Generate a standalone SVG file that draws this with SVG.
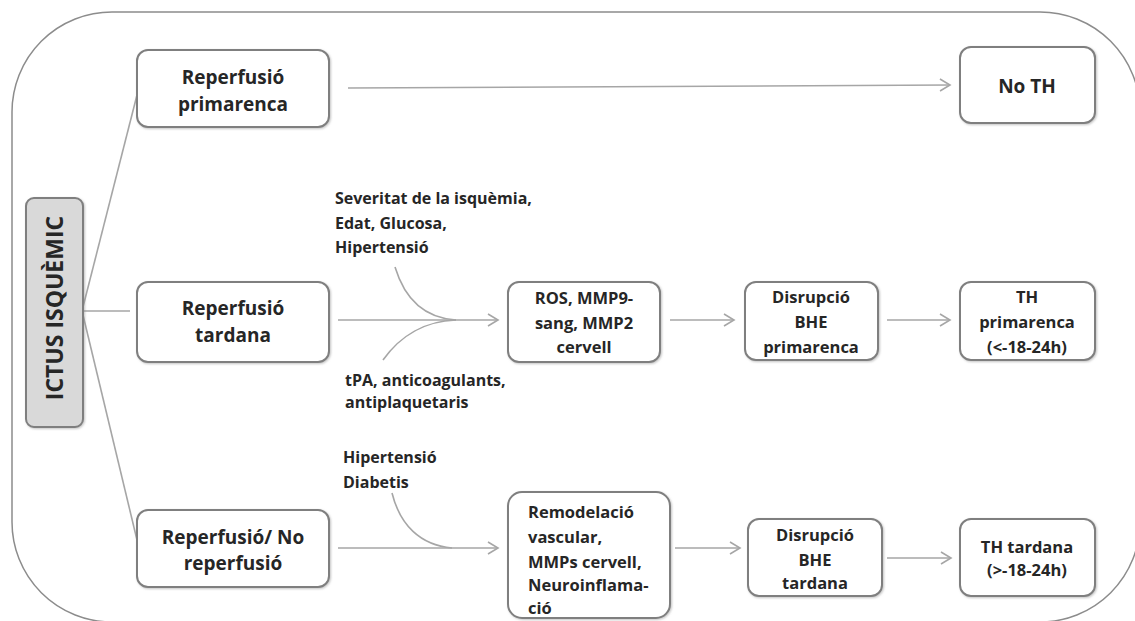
<svg xmlns="http://www.w3.org/2000/svg" width="1135" height="621" viewBox="0 0 1135 621">
<style>
.box{fill:#fff;stroke:#7f7f7f;stroke-width:2;filter:url(#sh)}
.t{font-family:"Open Sans","DejaVu Sans",sans-serif;font-weight:700;fill:#262626}
.big{font-size:19px;text-anchor:middle}
.mid{font-size:16.5px;text-anchor:middle}
.lab{font-size:16px}
.ln{fill:none;stroke:#a6a6a6;stroke-width:1.6}
.ar{marker-end:url(#ah)}
</style>
<defs>
<filter id="sh" x="-10%" y="-10%" width="130%" height="130%">
<feDropShadow dx="1" dy="1" stdDeviation="1" flood-color="#888" flood-opacity="0.5"/>
</filter>
<marker id="ah" markerUnits="userSpaceOnUse" markerWidth="14" markerHeight="14" viewBox="0 0 14 14" refX="12" refY="7" orient="auto">
<path d="M2,1 L12,7 L2,13" fill="none" stroke="#a6a6a6" stroke-width="1.6"/>
</marker>
</defs>
<rect width="1135" height="621" fill="#fff"/>
<rect x="12" y="12" width="1128" height="610" rx="100" ry="100" fill="none" stroke="#8c8c8c" stroke-width="1.5"/>

<g id="connectors">
<line class="ln" x1="83" y1="307" x2="137" y2="95"/>
<line class="ln" x1="83" y1="311" x2="130" y2="311"/>
<line class="ln" x1="83" y1="315" x2="137" y2="540"/>
<line class="ln ar" x1="348" y1="88" x2="950" y2="85"/>
<line class="ln ar" x1="338" y1="320" x2="498" y2="320"/>
<path class="ln" d="M395,267 C405,300 425,318 456,320"/>
<path class="ln" d="M383,360 C400,336 425,321 456,320"/>
<line class="ln ar" x1="670" y1="320" x2="734" y2="320"/>
<line class="ln ar" x1="887" y1="320" x2="950" y2="320"/>
<line class="ln ar" x1="338" y1="548" x2="498" y2="548"/>
<path class="ln" d="M392,493 C400,525 420,545 452,548"/>
<line class="ln ar" x1="675" y1="548" x2="740" y2="548"/>
<line class="ln ar" x1="887" y1="558" x2="951" y2="558"/>
</g>

<g id="ictus">
<rect x="26" y="198" width="57" height="229" rx="8" fill="#d9d9d9" stroke="#7f7f7f" stroke-width="2" filter="url(#sh)"/>
<text class="t" font-size="23" text-anchor="middle" transform="translate(63,308) rotate(-90)">ICTUS ISQUÈMIC</text>
</g>

<g id="rep-primarenca">
<rect class="box" x="137" y="50" width="192" height="77" rx="11"/>
<text class="t big" x="233" y="84">Reperfusió</text>
<text class="t big" x="233" y="111">primarenca</text>
</g>

<g id="rep-tardana">
<rect class="box" x="137" y="282" width="192" height="80" rx="11"/>
<text class="t big" x="233" y="315">Reperfusió</text>
<text class="t big" x="233" y="342">tardana</text>
</g>

<g id="rep-no">
<rect class="box" x="137" y="510" width="192" height="77" rx="11"/>
<text class="t big" x="233" y="544">Reperfusió/ No</text>
<text class="t big" x="233" y="570">reperfusió</text>
</g>

<g id="no-th">
<rect class="box" x="960" y="47" width="135" height="76" rx="11"/>
<text class="t big" x="1027" y="93">No TH</text>
</g>

<g id="lab-severitat">
<text class="t lab" x="335" y="204">Severitat de la isquèmia,</text>
<text class="t lab" x="335" y="229">Edat, Glucosa,</text>
<text class="t lab" x="335" y="253">Hipertensió</text>
</g>

<g id="lab-tpa">
<text class="t lab" x="345" y="386">tPA, anticoagulants,</text>
<text class="t lab" x="345" y="408">antiplaquetaris</text>
</g>

<g id="lab-hiper">
<text class="t lab" x="343" y="463">Hipertensió</text>
<text class="t lab" x="343" y="488">Diabetis</text>
</g>

<g id="ros">
<rect class="box" x="508" y="282" width="152" height="80" rx="11"/>
<text class="t mid" x="584" y="304">ROS, MMP9-</text>
<text class="t mid" x="584" y="329">sang, MMP2</text>
<text class="t mid" x="584" y="353">cervell</text>
</g>

<g id="bhe-primarenca">
<rect class="box" x="745" y="282" width="133" height="78" rx="11"/>
<text class="t mid" x="811" y="303">Disrupció</text>
<text class="t mid" x="811" y="328">BHE</text>
<text class="t mid" x="811" y="353">primarenca</text>
</g>

<g id="th-primarenca">
<rect class="box" x="960" y="282" width="135" height="78" rx="11"/>
<text class="t mid" x="1027" y="303">TH</text>
<text class="t mid" x="1027" y="328">primarenca</text>
<text class="t mid" x="1027" y="353">(&lt;-18-24h)</text>
</g>

<g id="remodelacio">
<rect class="box" x="508" y="492" width="162" height="126" rx="14"/>
<text class="t mid" x="528" y="518" text-anchor="start" style="text-anchor:start">Remodelació</text>
<text class="t mid" x="528" y="543" style="text-anchor:start">vascular,</text>
<text class="t mid" x="528" y="568" style="text-anchor:start">MMPs cervell,</text>
<text class="t mid" x="528" y="591" style="text-anchor:start">Neuroinflama-</text>
<text class="t mid" x="528" y="614" style="text-anchor:start">ció</text>
</g>

<g id="bhe-tardana">
<rect class="box" x="748" y="519" width="134" height="77" rx="11"/>
<text class="t mid" x="815" y="541">Disrupció</text>
<text class="t mid" x="815" y="566">BHE</text>
<text class="t mid" x="815" y="589">tardana</text>
</g>

<g id="th-tardana">
<rect class="box" x="960" y="519" width="135" height="77" rx="11"/>
<text class="t mid" x="1027" y="553">TH tardana</text>
<text class="t mid" x="1027" y="576">(&gt;-18-24h)</text>
</g>
</svg>
